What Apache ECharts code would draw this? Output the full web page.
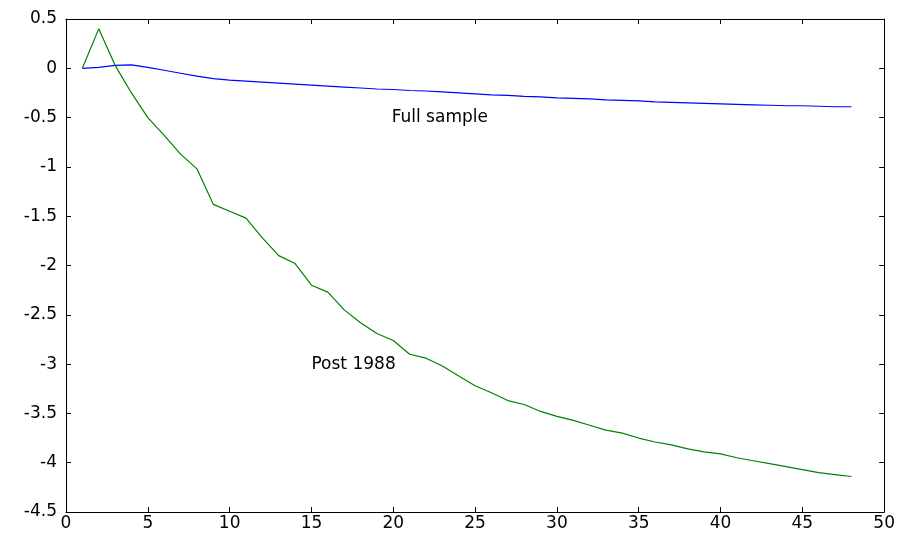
<!DOCTYPE html>
<html>
<head>
<meta charset="utf-8">
<script src="https://cdn.jsdelivr.net/npm/echarts@6/dist/echarts.min.js"></script>
<style>
  html, body { margin: 0; padding: 0; background: #fff; }
  #container { width: 898px; height: 538px; }
</style>
</head>
<body>
<div id="container"></div>
<script>
// horizon 1..48
var horizons = [];
for (var h = 1; h <= 48; h++) horizons.push(h);

var fullSample = [0, 0.01, 0.03, 0.035, 0.01, -0.02, -0.05, -0.08, -0.105, -0.12,
  -0.13, -0.14, -0.15, -0.16, -0.17, -0.18, -0.19, -0.2, -0.21, -0.215,
  -0.225, -0.23, -0.24, -0.25, -0.26, -0.27, -0.275, -0.285, -0.29, -0.3,
  -0.305, -0.31, -0.32, -0.325, -0.33, -0.34, -0.345, -0.35, -0.355, -0.36,
  -0.365, -0.37, -0.375, -0.38, -0.38, -0.385, -0.39, -0.39];

var post1988 = [0, 0.4, 0.03, -0.25, -0.5, -0.68, -0.87, -1.02, -1.38, -1.45,
  -1.52, -1.72, -1.9, -1.98, -2.2, -2.27, -2.45, -2.58, -2.69, -2.76,
  -2.9, -2.94, -3.02, -3.12, -3.22, -3.29, -3.37, -3.41, -3.48, -3.53,
  -3.57, -3.62, -3.67, -3.7, -3.75, -3.79, -3.82, -3.86, -3.89, -3.91,
  -3.95, -3.98, -4.01, -4.04, -4.07, -4.1, -4.12, -4.14];

var labels = [
  { text: "Full sample", at: [19.9, -0.5] },
  { text: "Post 1988", at: [15.0, -3.0] }
];

function pairs(ys) {
  return horizons.map(function (x, i) { return [x, ys[i]]; });
}

var fontFamily = "DejaVu Sans, sans-serif";
var axisLine = { show: true, onZero: false, lineStyle: { color: "#000", width: 1 } };
var axisTick = { show: true, inside: true, length: 5, lineStyle: { color: "#000" } };

function xAx(pos, showLabel) {
  return {
    type: "value", position: pos, min: 0, max: 50, interval: 5,
    axisLine: axisLine, axisTick: axisTick, splitLine: { show: false },
    axisLabel: { show: showLabel, color: "#000", fontSize: 17, fontFamily: fontFamily, margin: 3 }
  };
}
function yAx(pos, showLabel) {
  return {
    type: "value", position: pos, min: -4.5, max: 0.5, interval: 0.5,
    axisLine: axisLine, axisTick: axisTick, splitLine: { show: false },
    axisLabel: { show: showLabel, color: "#000", fontSize: 17, fontFamily: fontFamily, margin: 9 }
  };
}

var myChart = echarts.init(document.getElementById("container"));
myChart.setOption({
  animation: false,
  grid: { left: 66, right: 12, top: 19, bottom: 26 },
  xAxis: [xAx("bottom", true), xAx("top", false)],
  yAxis: [yAx("left", true), yAx("right", false)],
  series: [
    {
      name: "Full sample", type: "line", data: pairs(fullSample),
      showSymbol: false, lineStyle: { color: "#0000ff", width: 1.2 },
      markPoint: {
        symbol: "circle", symbolSize: 0,
        label: { show: true, position: "right", distance: 0, color: "#000", fontSize: 17, fontFamily: fontFamily, formatter: labels[0].text },
        data: [{ coord: labels[0].at }]
      }
    },
    {
      name: "Post 1988", type: "line", data: pairs(post1988),
      showSymbol: false, lineStyle: { color: "#008000", width: 1.2 },
      markPoint: {
        symbol: "circle", symbolSize: 0,
        label: { show: true, position: "right", distance: 0, color: "#000", fontSize: 17, fontFamily: fontFamily, formatter: labels[1].text },
        data: [{ coord: labels[1].at }]
      }
    }
  ]
});
</script>
</body>
</html>
